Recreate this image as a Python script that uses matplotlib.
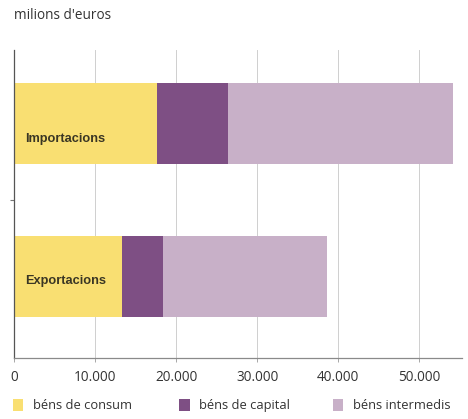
import matplotlib
matplotlib.use("Agg")
import matplotlib.pyplot as plt
from matplotlib.patches import Rectangle

# milions d'euros per tipus de bé
categories = ["Exportacions", "Importacions"]
consum = [13300, 17600]
capital = [5100, 8800]
intermedis = [20200, 27700]
series_names = ["béns de consum", "béns de capital", "béns intermedis"]
xticks = [0, 10000, 20000, 30000, 40000, 50000]
xtick_labels = ["0", "10.000", "20.000", "30.000", "40.000", "50.000"]

colors = ["#f9df72", "#7e4f84", "#c8b0c8"]
FONT = "Open Sans"

fig = plt.figure(figsize=(4.68, 4.19), dpi=100)
ax = fig.add_axes([0.030, 0.146, 0.958, 0.735])

ypos = [0, 1]
left = [0, 0]
for vals, c in zip([consum, capital, intermedis], colors):
    ax.barh(ypos, vals, left=left, height=0.53, color=c, zorder=2)
    left = [l + v for l, v in zip(left, vals)]

label_y = [-0.03, 0.90]
for y, cat in zip(label_y, categories):
    ax.text(1350, y, cat, va="center", ha="left", fontsize=9.2, weight="bold",
            family="Liberation Sans", color="#3a3624", zorder=3)

ax.set_xlim(0, 55300)
ax.set_ylim(-0.528, 1.479)
ax.set_xticks(xticks)
ax.set_xticklabels(xtick_labels, family=FONT, fontsize=9.8, color="#333333")
ax.set_yticks([0.5])
ax.set_yticklabels([""])
ax.tick_params(axis="y", length=3, color="#777777", width=0.8)
ax.tick_params(axis="x", length=3, color="#999999", width=0.6, pad=6)
ax.grid(axis="x", color="#cfcfcf", linewidth=0.7, zorder=0)

for s in ["top", "right"]:
    ax.spines[s].set_visible(False)
ax.spines["left"].set_color("#555555")
ax.spines["left"].set_linewidth(0.9)
ax.spines["bottom"].set_color("#8a8a8a")
ax.spines["bottom"].set_linewidth(0.9)

fig.text(0.030, 0.963, "milions d'euros", family=FONT, fontsize=9.8,
         color="#333333", va="center", ha="left")

# legend row laid out by hand
leg_x = [0.028, 0.383, 0.711]
leg_y = 0.033
for x, c, name in zip(leg_x, colors, series_names):
    fig.patches.append(Rectangle((x, leg_y - 0.013), 0.022, 0.027, facecolor=c,
                                 edgecolor="none", transform=fig.transFigure, figure=fig))
    fig.text(x + 0.043, leg_y, name, family=FONT, fontsize=9.3, color="#333333",
             va="center", ha="left")

fig.savefig("out.png", dpi=100, facecolor="white")
